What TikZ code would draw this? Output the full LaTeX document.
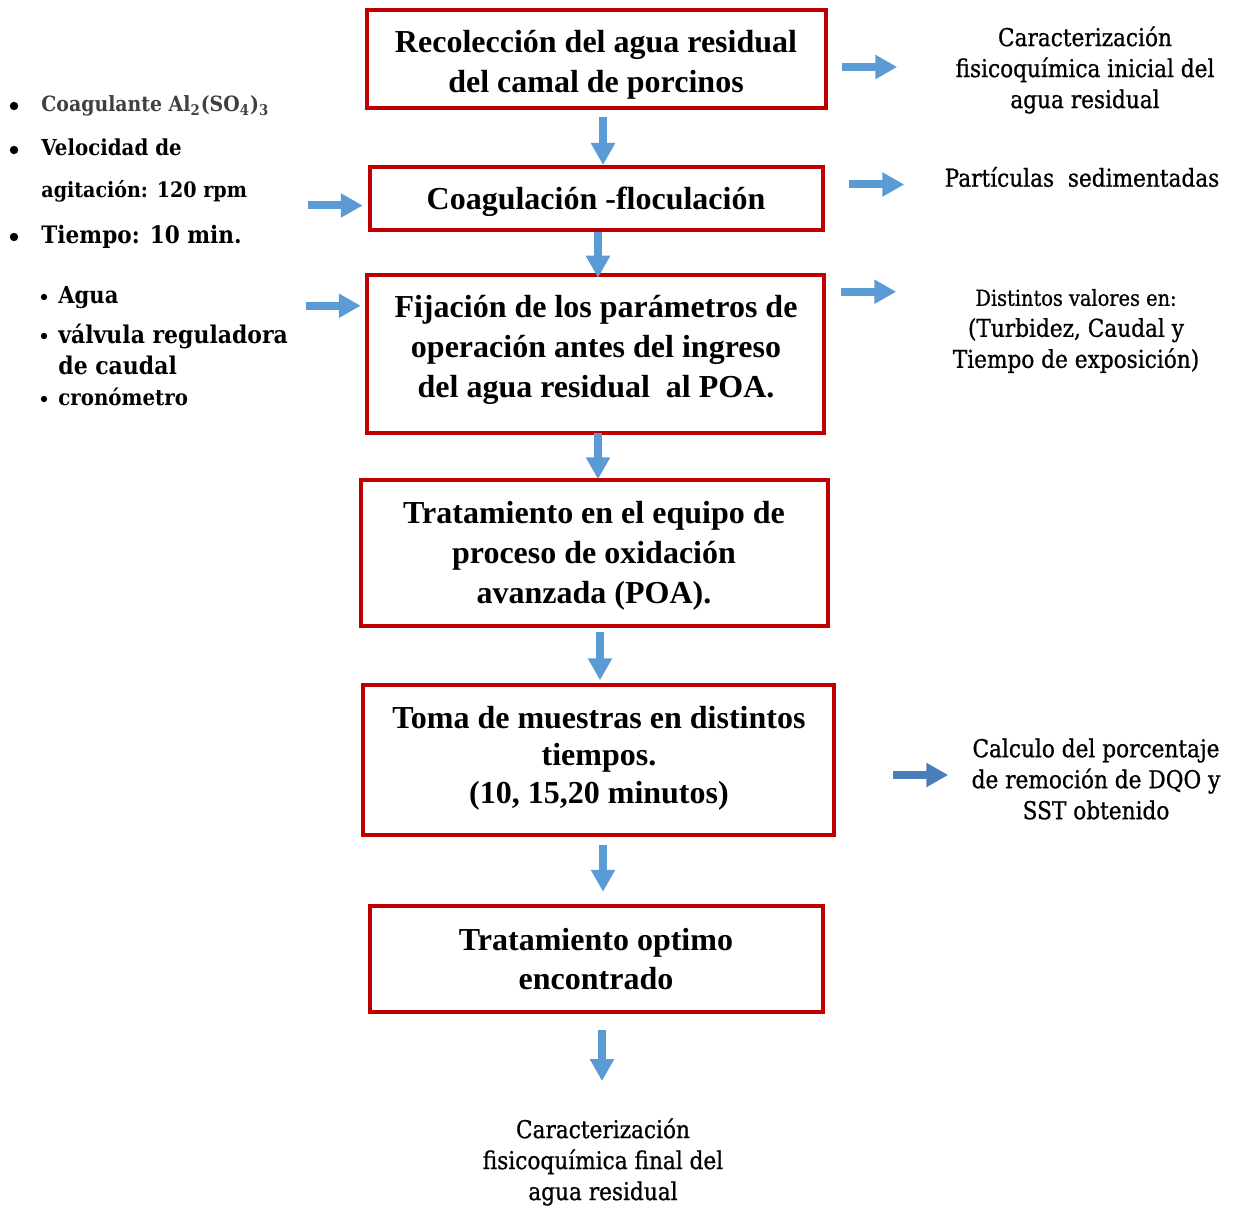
\documentclass[tikz,border=0pt]{standalone}
\usepackage{fontspec}
\setmainfont{Liberation Serif}
\newfontfamily\cam[FakeStretch=0.9]{DejaVu Serif}
\newfontfamily\camside[FakeStretch=0.88,FakeBold=0.8]{DejaVu Serif}
\usetikzlibrary{arrows.meta,calc}
\definecolor{boxred}{HTML}{C00000}
\definecolor{arrblue}{HTML}{5B9BD5}
\definecolor{arrdark}{HTML}{4A7EBB}
\definecolor{coaggray}{HTML}{404040}
\begin{document}
\begin{tikzpicture}[x=0.5pt,y=-0.5pt,
  procbox/.style={draw=boxred, line width=2.25pt, inner sep=0pt, anchor=center},
  boxtxt/.style={font=\fontsize{16}{20}\selectfont\bfseries, align=center, inner sep=0pt},
  sidetxt/.style={font=\camside\fontsize{12.3}{15.5}\selectfont, align=center, inner sep=0pt},
  lefttxt/.style={font=\cam\bfseries\fontsize{10.5}{13}\selectfont, anchor=base west, inner sep=0pt},
  bigdot/.style={circle, fill=black, inner sep=0pt, minimum size=4.2pt},
  smalldot/.style={circle, fill=black, inner sep=0pt, minimum size=3.2pt},
  blk/.style={draw=arrblue, line width=4pt, -{Triangle[length=11pt,width=11.5pt]}},
  blkdark/.style={blk, draw=arrdark}
]
\useasboundingbox (0,0) rectangle (1240,1208);

% process boxes
\node[procbox, minimum width=459*0.5pt, minimum height=98*0.5pt] (b1) at (596.5,59) {};
\node[procbox, minimum width=453*0.5pt, minimum height=63*0.5pt] (b2) at (596.5,198.5) {};
\node[procbox, minimum width=457*0.5pt, minimum height=158*0.5pt] (b3) at (595.5,354) {};
\node[procbox, minimum width=467*0.5pt, minimum height=146*0.5pt] (b4) at (594.5,553) {};
\node[procbox, minimum width=471*0.5pt, minimum height=150*0.5pt] (b5) at (598.5,760) {};
\node[procbox, minimum width=453*0.5pt, minimum height=106*0.5pt] (b6) at (596.5,959) {};

% box texts
\node[boxtxt] (t1) at (596,65) {Recolección del agua residual\\del camal de porcinos};
\node[boxtxt] (t2) at (596,202) {Coagulación -floculación};
\node[boxtxt] (t3) at (596,350) {Fijación de los parámetros de\\operación antes del ingreso\\del agua residual\ \ al POA.};
\node[boxtxt] (t4) at (594,556) {Tratamiento en el equipo de\\proceso de oxidación\\avanzada (POA).};
\node[boxtxt, font=\fontsize{16}{18.75}\selectfont\bfseries] (t5) at (599,758) {Toma de muestras en distintos\\tiempos.\\(10, 15,20 minutos)};
\node[boxtxt, font=\fontsize{16}{19.5}\selectfont\bfseries] (t6) at (596,959) {Tratamiento optimo\\encontrado};

% side texts (right)
\node[sidetxt] (r1) at (1085,70) {Caracterización\\fisicoquímica inicial del\\agua residual};
\node[sidetxt] (r2) at (1082,177) {Partículas\ \ sedimentadas};
\node[sidetxt] (r3) at (1076,331) {{\fontsize{11}{15.5}\selectfont Distintos valores en:}\\(Turbidez, Caudal y\\Tiempo de exposición)};
\node[sidetxt] (r4) at (1096,779) {Calculo del porcentaje\\de remoción de DQO y\\SST obtenido};
\node[sidetxt] (r5) at (603,1162) {Caracterización\\fisicoquímica final del\\agua residual};

% left texts, group 1
\node[bigdot] (d1) at (14,106) {};
\node[bigdot] (d2) at (14,150) {};
\node[bigdot] (d3) at (14,237) {};
\node[lefttxt, text=coaggray] (l1) at (41,112) {Coagulante Al\textsubscript{2}(SO\textsubscript{4})\textsubscript{3}};
\node[lefttxt, font=\cam\bfseries\fontsize{11}{13}\selectfont] (l2) at (41,156) {Velocidad de};
\node[lefttxt, font=\cam\bfseries\fontsize{10.6}{13}\selectfont] (l3) at (41,198) {agitación: 120 rpm};
\node[lefttxt, font=\cam\bfseries\fontsize{12}{14}\selectfont] (l4) at (41,244) {Tiempo: 10 min.};

% left texts, group 2
\node[smalldot] (e1) at (44,297) {};
\node[smalldot] (e2) at (44,336) {};
\node[smalldot] (e3) at (44,399) {};
\node[lefttxt, font=\cam\bfseries\fontsize{11.7}{15.5}\selectfont] (m1) at (58,304) {Agua};
\node[lefttxt, font=\cam\bfseries\fontsize{12.2}{15.5}\selectfont, align=left, anchor=north west] (m2) at (58,324) {válvula reguladora\\de caudal};
\node[lefttxt, font=\cam\bfseries\fontsize{11}{13}\selectfont] (m3) at (58,405) {cronómetro};

% vertical arrows
\draw[blk] ($(b1.south)+(6.5,6.75)$) -- ($(b2.north)+(6.5,0.25)$);
\draw[blk] ($(b2.south)+(1.5,0)$) -- ($(b3.north)+(2.5,5)$);
\draw[blk] ($(b3.south)+(2.5,-2)$) -- ($(b4.north)+(3.5,1.5)$);
\draw[blk] ($(b4.south)+(5.5,3.75)$) -- ($(b5.north)+(1.5,-2.5)$);
\draw[blk] ($(b5.south)+(4.5,7.75)$) -- ($(b6.north)+(6.5,-12)$);
\draw[blk] ($(b6.south)+(5.5,15.75)$) -- ($(r5.north)+(-1,-37)$);

% horizontal arrows, right
\draw[blk] (b1.east) ++(14,8) -- ++(55,0);
\draw[blk] (b2.east) ++(24,-14) -- ++(55,0);
\draw[blk] ($(b3.north east)+(15,19)$) -- ++(55,0);
\draw[blkdark] (b5.east) ++(57,15) -- ++(55,0);

% horizontal arrows, left
\draw[blk] ($(b2.west)+(-60,7)$) -- ($(b2.west)+(-5,7)$);
\draw[blk] ($(b3.north west)+(-59,33)$) -- ($(b3.north west)+(-4,33)$);
\end{tikzpicture}
\end{document}
